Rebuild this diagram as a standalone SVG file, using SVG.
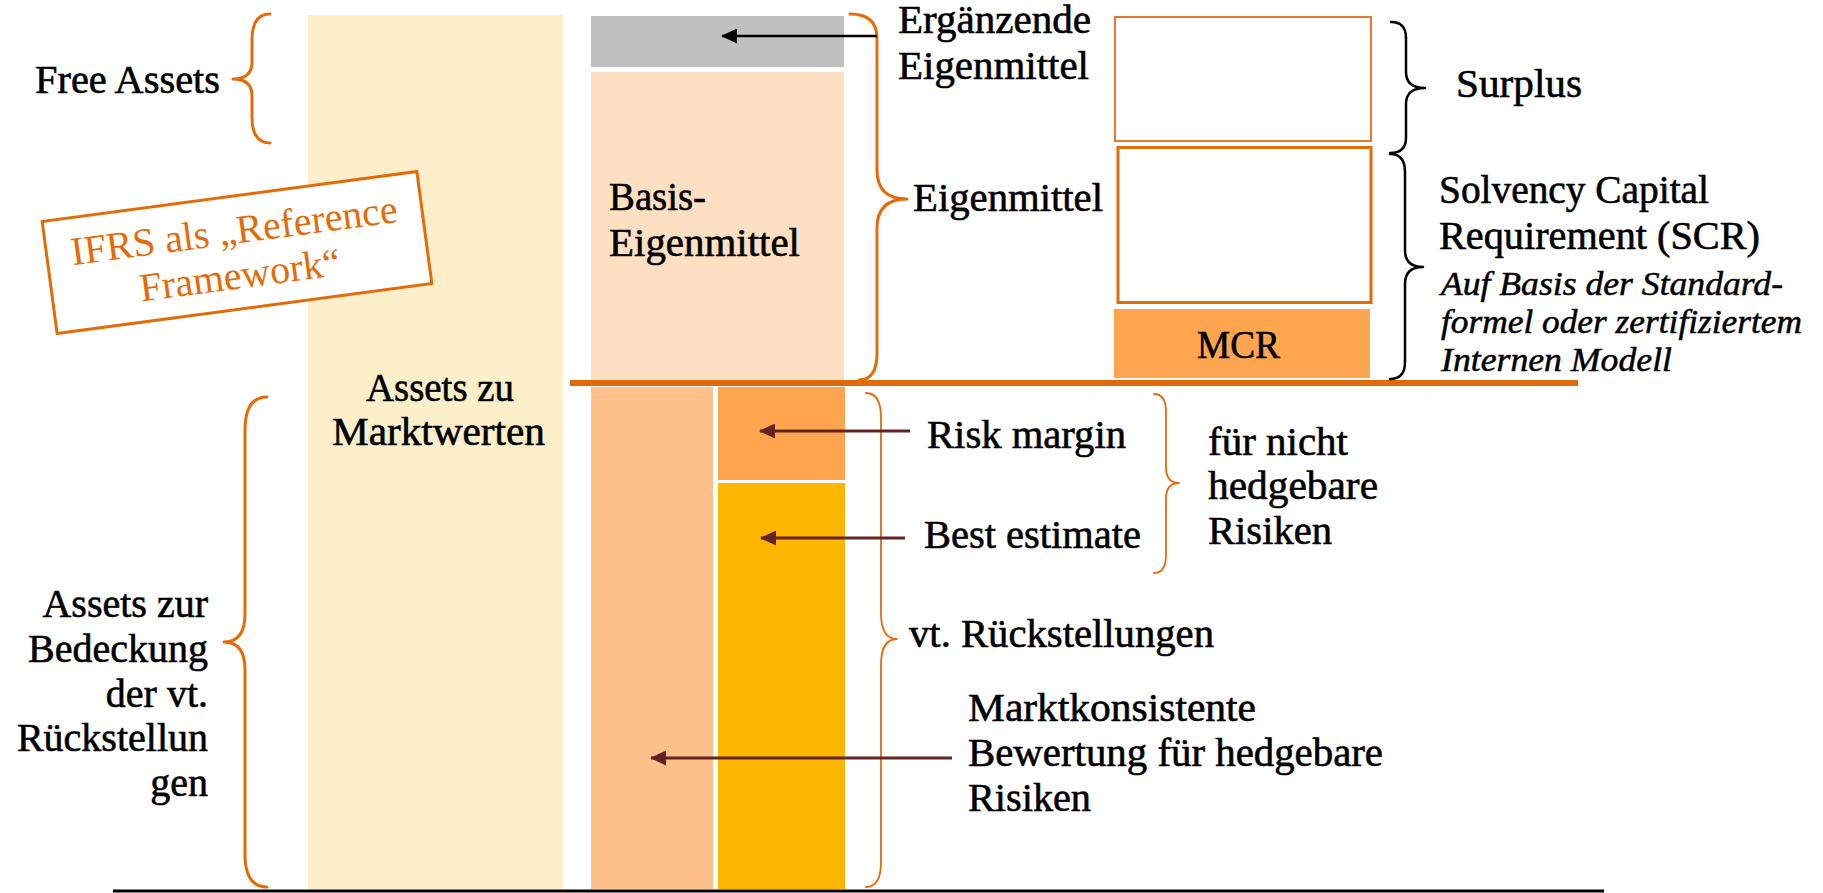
<svg xmlns="http://www.w3.org/2000/svg" width="1823" height="893" viewBox="0 0 1823 893">
  <style>
    .t { font-family: "Liberation Serif", "Times New Roman", serif; font-size: 40px; fill: #000; stroke: #000; stroke-width: 0.6; }
    .it { font-family: "Liberation Serif", "Times New Roman", serif; font-size: 33px; font-style: italic; fill: #000; stroke: #000; stroke-width: 0.5; }
    .ifrs { font-family: "Liberation Serif", "Times New Roman", serif; font-size: 40px; fill: #E36C09; }
    .brace-o { fill: none; stroke: #E36C09; stroke-width: 3; stroke-linejoin: round; stroke-linecap: round; }
    .brace-thin { fill: none; stroke: #E36C09; stroke-width: 1.8; stroke-linejoin: round; stroke-linecap: round; }
    .brace-k { fill: none; stroke: #000; stroke-width: 2.5; stroke-linejoin: round; stroke-linecap: round; }
    .arrow-k { stroke: #000; stroke-width: 2.5; marker-end: url(#headBlack); }
    .arrow-r { stroke: #632423; stroke-width: 3; marker-end: url(#headRed); }
  </style>
  <defs>
    <marker id="headBlack" markerUnits="userSpaceOnUse" viewBox="0 0 16 15" refX="15" refY="7.5" markerWidth="16" markerHeight="15" orient="auto">
      <path d="M0,0 L16,7.5 L0,15 z" fill="#000"/>
    </marker>
    <marker id="headRed" markerUnits="userSpaceOnUse" viewBox="0 0 16 15" refX="15" refY="7.5" markerWidth="16" markerHeight="15" orient="auto">
      <path d="M0,0 L16,7.5 L0,15 z" fill="#632423"/>
    </marker>
  </defs>

  <rect width="1823" height="893" fill="#fff"/>

  <!-- asset column -->
  <g id="assets-market">
    <rect x="308" y="15" width="255" height="874" fill="#FEEFCB"/>
    <text class="t" x="366" y="401" textLength="148" lengthAdjust="spacingAndGlyphs">Assets zu</text>
    <text class="t" x="332" y="445" textLength="213" lengthAdjust="spacingAndGlyphs">Marktwerten</text>
  </g>

  <!-- own funds column -->
  <g id="ancillary-own-funds">
    <rect x="591" y="16" width="253" height="51" fill="#C0C0C0"/>
  </g>
  <g id="basic-own-funds">
    <rect x="591" y="72" width="253" height="310" fill="#FDDFC1"/>
    <text class="t" x="609" y="210" textLength="97" lengthAdjust="spacingAndGlyphs">Basis-</text>
    <text class="t" x="609" y="256" textLength="191" lengthAdjust="spacingAndGlyphs">Eigenmittel</text>
  </g>

  <!-- technical provisions -->
  <g id="hedgeable">
    <rect x="591" y="387" width="122" height="502" fill="#FFC18C"/>
  </g>
  <g id="risk-margin">
    <rect x="718" y="387" width="127" height="93" fill="#FFA54F"/>
  </g>
  <g id="best-estimate">
    <rect x="718" y="483" width="127" height="406" fill="#FFB600"/>
  </g>

  <!-- capital requirements -->
  <g id="surplus">
    <rect x="1115" y="17" width="256" height="124" fill="#fff" stroke="#E8782A" stroke-width="2"/>
  </g>
  <g id="scr">
    <rect x="1118" y="147.5" width="253" height="155" fill="#fff" stroke="#E36C09" stroke-width="3"/>
  </g>
  <g id="mcr">
    <rect x="1114" y="309" width="256" height="69" fill="#FFA54F"/>
    <text class="t" x="1197" y="358" textLength="83" lengthAdjust="spacingAndGlyphs">MCR</text>
  </g>

  <!-- balance lines -->
  <g id="rules">
    <line x1="570" y1="383" x2="1578" y2="383" stroke="#E06A09" stroke-width="6"/>
    <line x1="113" y1="891" x2="1604" y2="891" stroke="#000" stroke-width="3"/>
  </g>

  <!-- IFRS stamp -->
  <g id="ifrs" transform="translate(237,252.5) rotate(-7.6)">
    <rect x="-189" y="-56.5" width="378" height="113" fill="#fff" stroke="#E36C09" stroke-width="3"/>
    <text class="ifrs" x="0" y="-9" text-anchor="middle">IFRS als „Reference</text>
    <text class="ifrs" x="0" y="36" text-anchor="middle">Framework“</text>
  </g>

  <!-- braces -->
  <g id="braces">
    <path class="brace-o" d="M270,14 Q252,14 252,40 L252,62 Q252,79 233,79 Q252,79 252,96 L252,117 Q252,143 270,143"/>
    <path class="brace-o" d="M850,14 Q877,14 877,38 L877,170 Q877,199 907,199 Q877,199 877,228 L877,353 Q877,380 859,380"/>
    <path class="brace-o" d="M267,397 Q245,397 245,430 L245,614 Q245,642 224,642 Q245,642 245,670 L245,854 Q245,887 267,887"/>
    <path class="brace-thin" d="M866,393 Q881,393 881,418 L881,613 Q881,639 897,639 Q881,639 881,665 L881,862 Q881,887 866,887"/>
    <path class="brace-thin" d="M1154,394 Q1166,394 1166,412 L1166,467 Q1166,483 1179,483 Q1166,483 1166,499 L1166,555 Q1166,573 1154,573"/>
    <path class="brace-k" d="M1391,22 Q1406,22 1406,38 L1406,72 Q1406,88 1425,88 Q1406,88 1406,104 L1406,138 Q1406,153 1390,153"/>
    <path class="brace-k" d="M1390,154 Q1405,154 1405,172 L1405,250 Q1405,267 1423,267 Q1405,267 1405,284 L1405,362 Q1405,379 1390,379"/>
  </g>

  <!-- connectors -->
  <g id="connectors">
    <line class="arrow-k" x1="877" y1="36" x2="722" y2="36"/>
    <line class="arrow-r" x1="910" y1="431" x2="760" y2="431"/>
    <line class="arrow-r" x1="905" y1="538" x2="761" y2="538"/>
    <line class="arrow-r" x1="952" y1="758" x2="651" y2="758"/>
  </g>

  <!-- labels -->
  <g id="label-free-assets">
    <text class="t" x="35" y="93" textLength="185" lengthAdjust="spacingAndGlyphs">Free Assets</text>
  </g>
  <g id="label-ancillary">
    <text class="t" x="898" y="33" textLength="193" lengthAdjust="spacingAndGlyphs">Ergänzende</text>
    <text class="t" x="898" y="79" textLength="191" lengthAdjust="spacingAndGlyphs">Eigenmittel</text>
  </g>
  <g id="label-own-funds">
    <text class="t" x="913" y="211" textLength="190" lengthAdjust="spacingAndGlyphs">Eigenmittel</text>
  </g>
  <g id="label-surplus">
    <text class="t" x="1456" y="97" textLength="126" lengthAdjust="spacingAndGlyphs">Surplus</text>
  </g>
  <g id="label-scr">
    <text class="t" x="1439" y="203" textLength="270" lengthAdjust="spacingAndGlyphs">Solvency Capital</text>
    <text class="t" x="1439" y="248.5" textLength="321" lengthAdjust="spacingAndGlyphs">Requirement (SCR)</text>
    <text class="it" x="1441" y="295" textLength="342" lengthAdjust="spacingAndGlyphs">Auf Basis der Standard-</text>
    <text class="it" x="1441" y="333" textLength="361" lengthAdjust="spacingAndGlyphs">formel oder zertifiziertem</text>
    <text class="it" x="1441" y="371" textLength="231" lengthAdjust="spacingAndGlyphs">Internen Modell</text>
  </g>
  <g id="label-covering-assets">
    <text class="t" x="208" y="617" text-anchor="end">Assets zur</text>
    <text class="t" x="208" y="662" text-anchor="end">Bedeckung</text>
    <text class="t" x="208" y="707" text-anchor="end">der vt.</text>
    <text class="t" x="208" y="751" text-anchor="end">Rückstellun</text>
    <text class="t" x="208" y="796" text-anchor="end">gen</text>
  </g>
  <g id="label-risk-margin">
    <text class="t" x="927" y="448" textLength="199" lengthAdjust="spacingAndGlyphs">Risk margin</text>
  </g>
  <g id="label-best-estimate">
    <text class="t" x="924" y="548" textLength="217" lengthAdjust="spacingAndGlyphs">Best estimate</text>
  </g>
  <g id="label-non-hedgeable">
    <text class="t" x="1208" y="455" textLength="140" lengthAdjust="spacingAndGlyphs">für nicht</text>
    <text class="t" x="1208" y="499" textLength="170" lengthAdjust="spacingAndGlyphs">hedgebare</text>
    <text class="t" x="1208" y="544" textLength="124" lengthAdjust="spacingAndGlyphs">Risiken</text>
  </g>
  <g id="label-provisions">
    <text class="t" x="909" y="647" textLength="305" lengthAdjust="spacingAndGlyphs">vt. Rückstellungen</text>
  </g>
  <g id="label-hedgeable">
    <text class="t" x="968" y="721" textLength="288" lengthAdjust="spacingAndGlyphs">Marktkonsistente</text>
    <text class="t" x="968" y="766" textLength="415" lengthAdjust="spacingAndGlyphs">Bewertung für hedgebare</text>
    <text class="t" x="968" y="811" textLength="123" lengthAdjust="spacingAndGlyphs">Risiken</text>
  </g>
</svg>
